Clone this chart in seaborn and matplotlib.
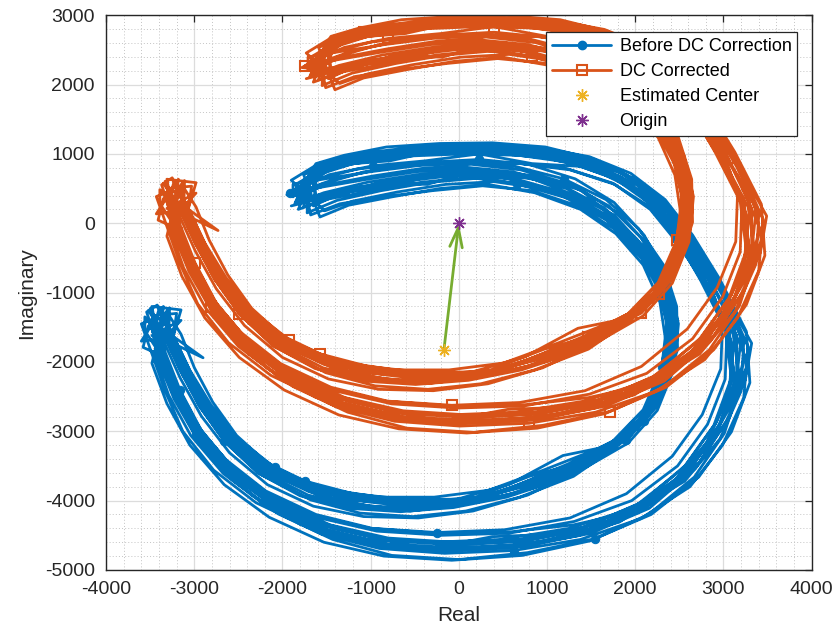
import numpy as np
import pandas as pd
import matplotlib
matplotlib.use("Agg")
import matplotlib.pyplot as plt
from matplotlib.lines import Line2D
from matplotlib.ticker import MultipleLocator
import seaborn as sns

# IQ samples before DC correction, grouped into sweeps.
# Outer sweeps run clockwise from the upper-left end to the left end.
outer_01 = [(-1915, 434), (-1560, 740), (-1080, 900), (-480, 990), (120, 1020), (760, 1000), (1320, 870),
            (1790, 660), (2180, 300), (2480, -180), (2770, -780), (3060, -1480), (3120, -2180), (2920, -2870),
            (2580, -3480), (2080, -4020), (1430, -4380), (690, -4560), (-60, -4600), (-800, -4540),
            (-1460, -4350), (-2060, -4000), (-2560, -3530), (-2930, -2980), (-3180, -2380), (-3360, -1830),
            (-3500, -1230)]
outer_02 = [(-1850, 560), (-1500, 820), (-1000, 980), (-400, 1080), (200, 1110), (800, 1080), (1350, 960),
            (1850, 730), (2250, 380), (2560, -100), (2870, -700), (3320, -1730), (3250, -2250), (3030, -2860),
            (2680, -3540), (2160, -4110), (1500, -4470), (740, -4660), (-30, -4700), (-790, -4650),
            (-1460, -4460), (-2080, -4090), (-2600, -3600), (-2980, -3040), (-3240, -2430), (-3420, -1880),
            (-3580, -1790)]
outer_03 = [(-1700, 650), (-1300, 850), (-780, 900), (-180, 1070), (420, 1010), (1000, 940), (1520, 780),
            (1970, 500), (2330, 90), (2620, -420), (2900, -1080), (3110, -1780), (3060, -2480), (2810, -3160),
            (2420, -3760), (1850, -4230), (1150, -4480), (380, -4520), (-380, -4700), (-1100, -4480),
            (-1750, -4250), (-2300, -3830), (-2740, -3320), (-3050, -2740), (-3270, -2170), (-3430, -1620),
            (-3300, -1250)]
outer_04 = [(-1880, 380), (-1620, 690), (-1150, 880), (-560, 970), (60, 1000), (680, 980), (1240, 880),
            (1760, 650), (2160, 290), (2460, -200), (2740, -820), (3020, -1520), (3090, -2230), (2890, -2920),
            (2540, -3540), (2020, -4060), (1380, -4400), (640, -4580), (-120, -4620), (-860, -4560),
            (-1500, -4370), (-2090, -4020), (-2580, -3560), (-2950, -3010), (-3200, -2420), (-3370, -1890),
            (-3520, -1400)]
outer_05 = [(-1760, 700), (-1380, 900), (-880, 1020), (-280, 1090), (330, 1120), (920, 1090), (1480, 960),
            (1950, 720), (2340, 340), (2650, -170), (2960, -810), (3260, -1560), (3300, -2300), (3090, -3010),
            (2720, -3660), (2180, -4200), (1540, -4550), (780, -4750), (0, -4850), (-760, -4790),
            (-1430, -4560), (-2050, -4190), (-2570, -3700), (-2960, -3130), (-3230, -2530), (-3410, -1960),
            (-3470, -1560)]
outer_06 = [(-1640, 790), (-1250, 930), (-720, 1030), (-120, 1070), (480, 1070), (1060, 1000), (1580, 830),
            (2020, 550), (2380, 130), (2680, -380), (2980, -1020), (3230, -1720), (3200, -2420), (2960, -3110),
            (2560, -3720), (2000, -4150), (1300, -4350), (520, -4460), (-270, -4470), (-1010, -4400),
            (-1670, -4200), (-2240, -3880), (-2690, -3440), (-3010, -2860), (-3240, -2280), (-3390, -1730),
            (-3150, -1400)]
outer_07 = [(-1820, 480), (-1530, 760), (-1030, 920), (-430, 1010), (180, 1040), (790, 1010), (1340, 890),
            (1830, 670), (2220, 310), (2520, -170), (2830, -770), (3120, -1470), (3170, -2170), (2970, -2870),
            (2620, -3510), (2120, -4060), (1470, -4410), (730, -4590), (-30, -4640), (-780, -4580),
            (-1440, -4390), (-2040, -4030), (-2540, -3560), (-2910, -3010), (-3160, -2410), (-3330, -1860),
            (-3440, -1330)]
outer_08 = [(-1950, 410), (-1640, 620), (-1160, 780), (-570, 860), (40, 880), (650, 870), (1220, 790),
            (1740, 580), (2150, 250), (2460, -220), (2760, -840), (3050, -1560), (3130, -2260), (2940, -2950),
            (2600, -3590), (2090, -4130), (1450, -4460), (710, -4640), (-60, -4680), (-810, -4620),
            (-1480, -4420), (-2080, -4060), (-2580, -3590), (-2950, -3040), (-3210, -2440), (-3380, -1900),
            (-3560, -1550)]
outer_09 = [(-1700, 560), (-1420, 820), (-950, 900), (-520, 1060), (60, 1020), (600, 1110), (1150, 930),
            (1700, 760), (2080, 420), (2420, 20), (2700, -560), (2990, -1150), (3240, -1900), (3120, -2560),
            (2800, -3240), (2400, -3820), (1820, -4310), (1100, -4560), (300, -4700), (-450, -4720),
            (-1150, -4600), (-1800, -4340), (-2350, -3920), (-2780, -3380), (-3090, -2780), (-3300, -2150),
            (-3460, -1600)]
outer_10 = [(-1600, 830), (-1180, 960), (-650, 1060), (-60, 1100), (540, 1090), (1120, 1020), (1640, 850),
            (2070, 560), (2420, 150), (2710, -360), (3010, -1010), (3280, -1780), (3230, -2520), (2990, -3200),
            (2620, -3800), (2060, -4260), (1380, -4560), (620, -4720), (-160, -4760), (-900, -4690),
            (-1560, -4480), (-2150, -4110), (-2630, -3620), (-2990, -3050), (-3240, -2460), (-3430, -1890),
            (-3380, -1500)]
outer_11 = [(-1780, 520), (-1470, 700), (-970, 830), (-380, 900), (230, 1000), (830, 860), (1380, 820),
            (1860, 600), (2240, 230), (2530, -250), (2800, -850), (3040, -1550), (3020, -2250), (2820, -2900),
            (2480, -3500), (1960, -4000), (1310, -4300), (570, -4470), (-190, -4500), (-930, -4440),
            (-1580, -4250), (-2160, -3900), (-2630, -3450), (-2990, -2900), (-3230, -2320), (-3400, -1780),
            (-3350, -1200)]
outer_12 = [(-1900, 620), (-1590, 860), (-1090, 1010), (-490, 1100), (110, 1130), (720, 1100), (1280, 990),
            (1790, 770), (2200, 420), (2520, -60), (2830, -660), (3150, -1360), (3260, -2080), (3070, -2790),
            (2730, -3440), (2220, -4020), (1580, -4400), (840, -4620), (60, -4690), (-700, -4670),
            (-1380, -4520), (-2010, -4170), (-2530, -3680), (-2910, -3120), (-3170, -2540), (-3360, -1980),
            (-3540, -1280)]
outer_13 = [(-1620, 860), (-1300, 980), (-820, 1100), (-220, 1150), (380, 1160), (980, 1100), (1520, 930),
            (1980, 640), (2330, 240), (2600, -280), (2880, -900), (3150, -1620), (3150, -2380), (2900, -3080),
            (2500, -3660), (1950, -4120), (1250, -4400), (480, -4560), (-300, -4600), (-1050, -4560),
            (-1720, -4380), (-2300, -4030), (-2780, -3560), (-3130, -3000), (-3330, -2420), (-3480, -1880),
            (-3600, -1450)]
outer_14 = [(-1850, 300), (-1560, 560), (-1080, 740), (-500, 840), (100, 880), (700, 860), (1260, 770),
            (1770, 560), (2170, 200), (2470, -270), (2790, -880), (3110, -1600), (3190, -2330), (3010, -3030),
            (2670, -3660), (2150, -4200), (1490, -4580), (720, -4790), (-80, -4860), (-850, -4800),
            (-1530, -4600), (-2150, -4240), (-2660, -3770), (-3050, -3200), (-3310, -2600), (-3480, -2020),
            (-3400, -1600)]
outer_15 = [(-1760, 620), (-1440, 800), (-950, 940), (-350, 1030), (260, 1060), (870, 1040), (1420, 930),
            (1900, 700), (2280, 330), (2570, -170), (2820, -760), (2990, -1420), (2970, -2100), (2760, -2760),
            (2420, -3360), (1900, -3900), (1260, -4250), (520, -4420), (-250, -4460), (-980, -4400),
            (-1620, -4200), (-2190, -3860), (-2650, -3400), (-3000, -2860), (-3240, -2290), (-3400, -1760),
            (-3480, -1200)]
outer_16 = [(-1680, 720), (-1350, 880), (-860, 990), (-260, 1060), (340, 1080), (950, 1040), (1500, 900),
            (1980, 650), (2360, 270), (2660, -250), (2960, -890), (3200, -1650), (3140, -2360), (2920, -3030),
            (2560, -3640), (2030, -4170), (1370, -4500), (610, -4680), (-170, -4720), (-920, -4650),
            (-1590, -4440), (-2180, -4080), (-2670, -3610), (-3040, -3060), (-3290, -2480), (-3450, -1900),
            (-3380, -1400)]

# Inner sweeps, listed clockwise; they are traversed back towards the upper-left end.
inner_01 = [(-1800, 320), (-1450, 420), (-950, 540), (-400, 660), (150, 720), (700, 620), (1250, 420),
            (1700, 100), (2050, -330), (2300, -850), (2420, -1450), (2350, -2100), (2150, -2700),
            (1800, -3150), (1300, -3480), (700, -3800), (100, -4020), (-500, -4060), (-1100, -3990),
            (-1650, -3820), (-2150, -3520), (-2550, -3100), (-2850, -2600), (-3080, -2100), (-3250, -1620),
            (-3430, -1470)]
inner_02 = [(-1720, 150), (-1380, 330), (-880, 470), (-330, 590), (220, 650), (760, 560), (1300, 360),
            (1740, 40), (2080, -390), (2320, -920), (2440, -1520), (2370, -2170), (2160, -2760),
            (1800, -3210), (1300, -3650), (690, -3950), (80, -4150), (-520, -4230), (-1120, -4180),
            (-1680, -3990), (-2180, -3650), (-2590, -3190), (-2890, -2660), (-3120, -2150), (-3300, -1660),
            (-3520, -1480)]
inner_03 = [(-1880, 560), (-1520, 640), (-1020, 740), (-470, 830), (80, 880), (640, 820), (1190, 640),
            (1670, 340), (2040, -80), (2320, -600), (2470, -1200), (2480, -1820), (2320, -2450),
            (2020, -2970), (1560, -3260), (960, -3560), (340, -3850), (-280, -3950), (-900, -3950),
            (-1480, -3840), (-2000, -3600), (-2440, -3210), (-2780, -2720), (-3020, -2210), (-3200, -1720),
            (-3350, -1330)]
inner_04 = [(-1575, 90), (-1250, 260), (-760, 380), (-220, 500), (330, 560), (860, 440), (1380, 200),
            (1780, -150), (2090, -600), (2280, -1140), (2350, -1730), (2250, -2350), (2020, -2900),
            (1650, -3350), (1140, -3700), (540, -3950), (-60, -4100), (-660, -4160), (-1260, -4110),
            (-1800, -3930), (-2280, -3600), (-2660, -3140), (-2940, -2640), (-3160, -2120), (-3330, -1650),
            (-3300, -1350)]
inner_05 = [(-1760, 240), (-1420, 380), (-920, 580), (-360, 560), (190, 760), (730, 590), (1270, 390),
            (1720, 70), (2060, -360), (2310, -880), (2430, -1480), (2360, -2130), (2150, -2720),
            (1790, -3170), (1290, -3500), (680, -3800), (80, -4000), (-520, -4060), (-1120, -4000),
            (-1670, -3850), (-2170, -3550), (-2570, -3130), (-2870, -2620), (-3100, -2110), (-3270, -1630),
            (-3400, -1240)]
inner_06 = [(-1900, 430), (-1560, 520), (-1060, 630), (-500, 740), (60, 810), (620, 740), (1180, 540),
            (1650, 220), (2020, -230), (2290, -770), (2440, -1380), (2420, -2030), (2240, -2650),
            (1900, -3130), (1410, -3440), (800, -3650), (190, -3950), (-420, -4020), (-1030, -3990),
            (-1600, -3880), (-2110, -3620), (-2530, -3230), (-2850, -2740), (-3090, -2240), (-3260, -1750),
            (-3480, -1620)]
inner_07 = [(-1680, 380), (-1330, 480), (-830, 580), (-270, 690), (280, 740), (820, 640), (1350, 520),
            (1780, 40), (2110, -350), (2340, -880), (2450, -1480), (2370, -2120), (2170, -2710),
            (1830, -3170), (1330, -3510), (730, -3800), (130, -4000), (-470, -4060), (-1070, -4000),
            (-1620, -3850), (-2120, -3560), (-2530, -3140), (-2840, -2640), (-3070, -2130), (-3240, -1650),
            (-3200, -1300)]
inner_08 = [(-1820, 200), (-1480, 350), (-980, 470), (-430, 590), (120, 660), (660, 570), (1210, 370),
            (1670, 50), (2020, -380), (2270, -910), (2390, -1510), (2320, -2160), (2110, -2750),
            (1750, -3200), (1250, -3560), (640, -3900), (40, -4050), (-560, -4120), (-1160, -4080),
            (-1710, -3920), (-2200, -3600), (-2600, -3170), (-2900, -2670), (-3130, -2160), (-3300, -1680),
            (-3560, -1350)]
inner_09 = [(-1650, 250), (-1330, 440), (-850, 520), (-310, 680), (250, 690), (800, 660), (1320, 400),
            (1760, 120), (2090, -340), (2360, -820), (2480, -1420), (2400, -2080), (2220, -2640),
            (1880, -3120), (1380, -3420), (780, -3720), (180, -4000), (-420, -4060), (-1020, -3990),
            (-1580, -3820), (-2090, -3520), (-2500, -3110), (-2810, -2620), (-3050, -2120), (-3230, -1640),
            (-2900, -1940)]
inner_10 = [(-1860, 280), (-1530, 440), (-1040, 590), (-480, 700), (90, 780), (660, 700), (1220, 500),
            (1690, 170), (2040, -280), (2280, -800), (2390, -1400), (2330, -2050), (2130, -2650),
            (1780, -3120), (1280, -3470), (660, -3780), (50, -4060), (-550, -4150), (-1150, -4050),
            (-1700, -3870), (-2190, -3570), (-2580, -3140), (-2880, -2640), (-3110, -2130), (-3290, -1640),
            (-3280, -1220)]
inner_11 = [(-1520, 180), (-1200, 320), (-700, 450), (-150, 560), (400, 600), (940, 500), (1450, 260),
            (1840, -110), (2150, -560), (2340, -1090), (2420, -1690), (2330, -2300), (2100, -2850),
            (1720, -3280), (1200, -3620), (600, -3900), (0, -4060), (-600, -4130), (-1200, -4100),
            (-1760, -3940), (-2250, -3620), (-2640, -3170), (-2930, -2660), (-3150, -2140), (-3320, -1660),
            (-3600, -1700)]
inner_12 = [(-1840, 400), (-1480, 560), (-980, 680), (-420, 790), (140, 850), (700, 770), (1240, 570),
            (1700, 250), (2060, -200), (2310, -720), (2450, -1320), (2440, -1960), (2270, -2580),
            (1940, -3070), (1460, -3400), (870, -3680), (260, -3980), (-360, -4000), (-970, -3960),
            (-1540, -3830), (-2060, -3580), (-2480, -3190), (-2810, -2710), (-3050, -2210), (-3230, -1720),
            (-3420, -1180)]
inner_13 = [(-1750, 480), (-1400, 640), (-900, 780), (-340, 880), (230, 920), (790, 850), (1320, 640),
            (1760, 300), (2100, -170), (2330, -700), (2440, -1300), (2400, -1950), (2200, -2580),
            (1860, -3120), (1380, -3560), (780, -3920), (160, -4150), (-460, -4250), (-1080, -4230),
            (-1650, -4080), (-2170, -3770), (-2600, -3310), (-2920, -2780), (-3160, -2230), (-3340, -1720),
            (-3500, -1400)]
inner_14 = [(-1680, 120), (-1350, 280), (-860, 380), (-300, 470), (270, 540), (830, 470), (1350, 250),
            (1760, -80), (2080, -520), (2300, -1040), (2380, -1640), (2290, -2260), (2060, -2820),
            (1680, -3220), (1180, -3350), (580, -3760), (-20, -3980), (-620, -3980), (-1200, -3900),
            (-1740, -3720), (-2180, -3450), (-2520, -3060), (-2790, -2580), (-3000, -2080), (-3150, -1600),
            (-3300, -1300)]
inner_15 = [(-1600, 300), (-1280, 480), (-800, 600), (-240, 720), (320, 770), (870, 680), (1400, 470),
            (1820, 130), (2150, -320), (2380, -850), (2490, -1450), (2440, -2100), (2250, -2700),
            (1920, -3170), (1440, -3520), (840, -3820), (220, -4020), (-400, -4110), (-1010, -4080),
            (-1580, -3930), (-2090, -3630), (-2500, -3200), (-2820, -2690), (-3060, -2170), (-3250, -1680),
            (-3150, -1250)]
inner_16 = [(-1900, 250), (-1560, 360), (-1080, 500), (-530, 620), (30, 700), (580, 640), (1120, 460),
            (1600, 150), (1980, -290), (2240, -820), (2360, -1430), (2300, -2080), (2090, -2690),
            (1740, -3150), (1240, -3470), (620, -3800), (0, -4050), (-610, -4080), (-1210, -3990),
            (-1760, -3800), (-2250, -3500), (-2640, -3080), (-2940, -2580), (-3170, -2070), (-3350, -1580),
            (-3520, -1260)]

# Estimated DC offset and the origin
center_re, center_im = -170, -1835
origin_re, origin_im = 0, 0

x_ticks = [-4000, -3000, -2000, -1000, 0, 1000, 2000, 3000, 4000]
y_ticks = [-5000, -4000, -3000, -2000, -1000, 0, 1000, 2000, 3000]

BLUE = "#0072BD"
ORANGE = "#D95319"
YELLOW = "#EDB120"
PURPLE = "#7E2F8E"
GREEN = "#77AC30"
INK = "#262626"

# Build the sample sequence: sweep out on an outer path, come back on an inner one
outer_sweeps = [outer_01, outer_02, outer_03, outer_04, outer_05, outer_06, outer_07, outer_08,
                outer_09, outer_10, outer_11, outer_12, outer_13, outer_14, outer_15, outer_16]
inner_sweeps = [inner_01, inner_02, inner_03, inner_04, inner_05, inner_06, inner_07, inner_08,
                inner_09, inner_10, inner_11, inner_12, inner_13, inner_14, inner_15, inner_16]
samples = []
for o, i in zip(outer_sweeps, inner_sweeps):
    samples.extend(o)
    samples.extend(i[::-1])
raw = pd.DataFrame(samples, columns=["re", "im"])
corrected = pd.DataFrame({"re": raw["re"] - center_re, "im": raw["im"] - center_im})

sns.set_theme(style="white")
plt.rcParams["font.family"] = ["Liberation Sans", "DejaVu Sans"]

fig = plt.figure(figsize=(8.35, 6.34), dpi=100)
ax = fig.add_axes([0.127, 0.101, 0.845, 0.875])

ax.xaxis.set_minor_locator(MultipleLocator(200))
ax.yaxis.set_minor_locator(MultipleLocator(200))
ax.grid(which="major", color="#DCDCDC", lw=0.9, ls="-")
ax.grid(which="minor", color="#C4C4C4", lw=0.7, ls=(0, (1, 2.2)))
ax.set_axisbelow(True)

mk_every = 38
LW = 2.0
sns.lineplot(data=raw, x="re", y="im", sort=False, estimator=None, ax=ax, color=BLUE, lw=LW,
             marker="o", markersize=6, markevery=mk_every, markeredgecolor=BLUE, markerfacecolor=BLUE)
sns.lineplot(data=corrected, x="re", y="im", sort=False, estimator=None, ax=ax, color=ORANGE, lw=LW,
             marker="s", markersize=7.5, markevery=mk_every, markeredgecolor=ORANGE, markerfacecolor="none",
             markeredgewidth=1.5)

ax.annotate("", xy=(origin_re, origin_im), xytext=(center_re, center_im),
            arrowprops=dict(arrowstyle="->,head_length=1.4,head_width=0.45", color=GREEN, lw=2.0,
                            shrinkA=0, shrinkB=0, mutation_scale=10), zorder=5)
ax.plot([center_re], [center_im], ls="none", marker=(8, 2, 0), ms=9, mew=1.0, color=YELLOW, zorder=6)
ax.plot([origin_re], [origin_im], ls="none", marker=(8, 2, 0), ms=9, mew=1.0, color=PURPLE, zorder=6)

ax.set_xlim(-4000, 4000)
ax.set_ylim(-5000, 3000)
ax.set_xticks(x_ticks)
ax.set_yticks(y_ticks)
ax.set_xticklabels([str(v) for v in x_ticks])
ax.set_yticklabels([str(v) for v in y_ticks])
ax.tick_params(which="major", direction="in", length=5, width=0.9, top=True, right=True,
               labelsize=14, colors=INK, pad=8)
ax.tick_params(which="minor", length=0)
for s in ax.spines.values():
    s.set_visible(True)
    s.set_color(INK)
    s.set_linewidth(1.0)

ax.set_xlabel("Real", fontsize=15, color=INK, labelpad=6)
ax.set_ylabel("Imaginary", fontsize=15, color=INK, labelpad=6)

handles = [
    Line2D([], [], color=BLUE, lw=LW, marker="o", ms=6),
    Line2D([], [], color=ORANGE, lw=LW, marker="s", ms=7.5, mfc="none", mew=1.5),
    Line2D([], [], ls="none", color=YELLOW, marker=(8, 2, 0), ms=9, mew=1.0),
    Line2D([], [], ls="none", color=PURPLE, marker=(8, 2, 0), ms=9, mew=1.0),
]
labels = ["Before DC Correction", "DC Corrected", "Estimated Center", "Origin"]
leg = ax.legend(handles, labels, loc="upper right", bbox_to_anchor=(0.979, 0.969), borderaxespad=0,
                fontsize=13, frameon=True, fancybox=False, framealpha=1, edgecolor=INK,
                handlelength=3.3, handletextpad=0.45, labelspacing=0.45, borderpad=0.3)
leg.get_frame().set_linewidth(0.9)
for t in leg.get_texts():
    t.set_color("black")

fig.savefig("out.png", dpi=100)
